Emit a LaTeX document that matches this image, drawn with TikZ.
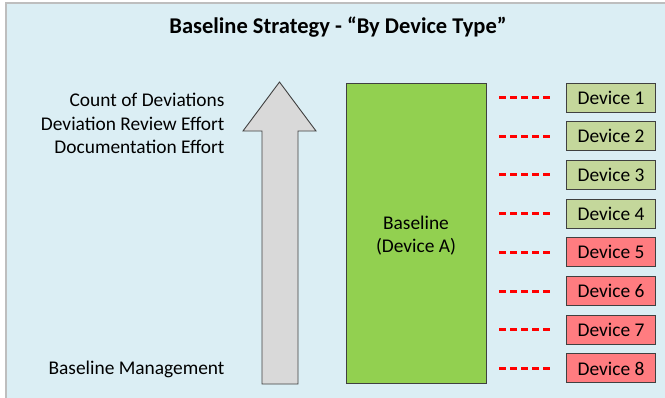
\documentclass[tikz,border=0pt]{standalone}
\usepackage{fontspec}
\setmainfont{Carlito}
\usepackage{tikz}
\usetikzlibrary{calc, positioning}

\definecolor{panelblue}{RGB}{219,238,244}
\definecolor{panelgray}{RGB}{190,190,190}
\definecolor{basegreen}{RGB}{146,208,80}
\definecolor{okgreen}{RGB}{196,215,155}
\definecolor{badred}{RGB}{255,124,128}
\definecolor{arrowgray}{RGB}{217,217,217}

\tikzset{
    devbox/.style={draw=black!75, line width=0.9pt, minimum width=89pt, minimum height=29pt, inner sep=0pt, font=\fontsize{19.4}{23}\selectfont},
    okdev/.style={devbox, fill=okgreen},
    baddev/.style={devbox, fill=badred},
    link/.style={red, line width=3pt, dash pattern=on 7pt off 4pt, shorten <=13pt, shorten >=16pt},
    lefttext/.style={anchor=east, font=\fontsize{19.4}{23}\selectfont}
}

\begin{document}
\begin{tikzpicture}[x=1pt, y=-1pt]
        \useasboundingbox (0,0) rectangle (665,397);
        \draw[panelgray, fill=panelblue, line width=1.5pt] (6,3) rectangle (680,410);
        \node (title) at (338,27) {\fontsize{22.5}{26}\selectfont\bfseries Baseline Strategy - “By Device Type”};
        \draw[black!75, fill=arrowgray, line width=0.9pt] (262,384) -- (262,131) -- (243,131) -- (279.5,82) -- (316,131) -- (298,131) -- (298,384) -- cycle;
        \node[lefttext] (count) at (228,100) {Count of Deviations};
        \node[lefttext] (review) at (228,124) {Deviation Review Effort};
        \node[lefttext] (docu) at (228,147) {Documentation Effort};
        \node[lefttext] (mgmt) at (228,369) {Baseline Management};
        \node[draw=black!75, line width=0.9pt, fill=basegreen, minimum width=140pt, minimum height=300pt, inner sep=0pt] (base) at (416,233) {};
        \node[align=center, font=\fontsize{19.4}{23}\selectfont] (basetext) at (416,236) {Baseline\\(Device A)};
        \node[okdev] (dev1) at (611,97.5) {Device 1};
        \node[okdev] (dev2) at (611,136.2) {Device 2};
        \node[okdev] (dev3) at (611,174.9) {Device 3};
        \node[okdev] (dev4) at (611,213.6) {Device 4};
        \node[baddev] (dev5) at (611,252.3) {Device 5};
        \node[baddev] (dev6) at (611,291) {Device 6};
        \node[baddev] (dev7) at (611,329.7) {Device 7};
        \node[baddev] (dev8) at (611,368.4) {Device 8};
        \draw[link] (base.east |- dev1.west) -- (dev1.west);
        \draw[link] (base.east |- dev2.west) -- (dev2.west);
        \draw[link] (base.east |- dev3.west) -- (dev3.west);
        \draw[link] (base.east |- dev4.west) -- (dev4.west);
        \draw[link] (base.east |- dev5.west) -- (dev5.west);
        \draw[link] (base.east |- dev6.west) -- (dev6.west);
        \draw[link] (base.east |- dev7.west) -- (dev7.west);
        \draw[link] (base.east |- dev8.west) -- (dev8.west);
    \end{tikzpicture}
\end{document}
